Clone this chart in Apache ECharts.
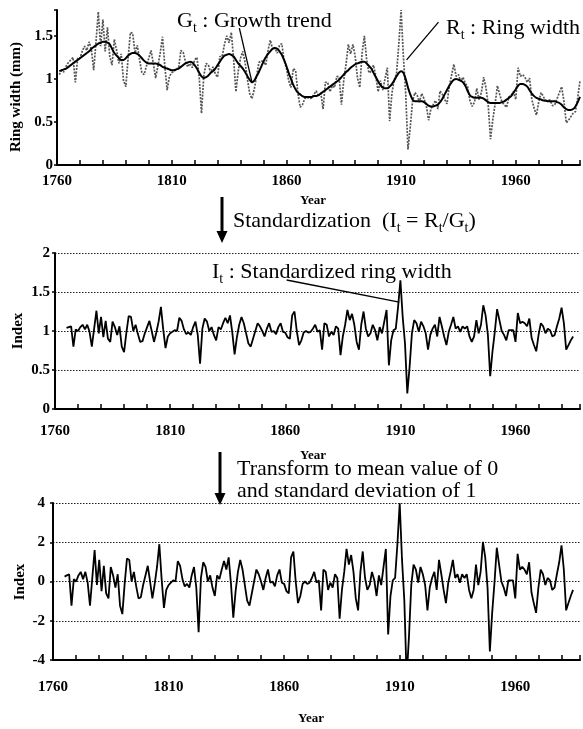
<!DOCTYPE html>
<html><head><meta charset="utf-8">
<script src="https://cdn.jsdelivr.net/npm/echarts@6/dist/echarts.min.js"></script>
<style>html,body{margin:0;padding:0;background:#fff}#c{width:583px;height:729px}</style>
</head><body><div id="c"></div>
<script>
// ---- data ----
const ringStartYear = 1761;   // panel 1 series start
const indexStartYear = 1765;  // panels 2 & 3 series start
const majorYearLabels = [1760, 1810, 1860, 1910, 1960];

// Rt : ring width (mm), 1761-1988
const ringWidth = [
  1.05,1.10,1.08,1.15,
  1.19,1.22,1.25,0.96,1.24,1.24,
  1.32,1.38,1.33,1.43,1.34,1.10,1.43,1.78,1.38,1.69,
  1.32,1.60,1.26,1.16,1.46,1.33,1.18,1.29,0.98,0.91,
  1.24,1.54,1.53,1.30,1.39,1.22,1.07,1.05,1.15,1.24,
  1.33,1.18,1.01,1.15,1.30,1.49,1.15,0.87,1.03,1.07,
  1.09,1.12,1.12,1.33,1.31,1.20,1.14,1.18,1.13,1.22,
  1.25,1.02,0.60,1.04,1.18,1.16,1.07,1.14,1.06,1.02,
  1.26,1.26,1.40,1.50,1.42,1.54,1.23,0.85,1.09,1.24,
  1.32,1.19,1.00,0.83,0.77,0.88,1.03,1.19,1.21,1.20,
  1.16,1.33,1.45,1.34,1.36,1.30,1.39,1.41,1.21,1.13,
  0.98,0.90,1.12,1.10,0.84,0.67,0.70,0.77,0.79,0.77,
  0.78,0.82,0.86,0.80,0.84,0.65,0.96,0.96,0.85,0.92,
  0.90,1.03,1.02,0.70,0.98,1.17,1.40,1.29,1.40,1.26,
  1.01,0.90,1.30,1.50,1.22,1.07,1.09,1.16,1.03,0.85,
  0.98,0.87,1.00,1.13,0.51,0.83,0.99,1.06,1.40,1.80,
  1.26,0.84,0.18,0.44,0.74,0.84,0.81,0.73,0.83,0.77,
  0.69,0.52,0.65,0.70,0.75,0.65,0.86,0.82,0.76,0.71,
  0.91,1.04,1.17,1.03,1.05,0.97,1.02,0.95,0.91,0.75,
  0.68,0.73,0.89,0.76,0.84,1.02,0.90,0.69,0.30,0.53,
  0.71,0.92,0.82,0.73,0.70,0.67,0.79,0.81,0.85,0.76,
  1.13,1.03,1.05,1.02,0.96,1.01,0.76,0.66,0.58,0.73,
  0.84,0.80,0.73,0.76,0.75,0.69,0.70,0.77,0.84,0.91,
  0.74,0.49,0.52,0.56,0.60,0.62,0.78,0.98
];

// Gt : growth trend (mm), 1761-1988
const growthTrend = [
  1.09,1.10,1.11,1.12,
  1.14,1.16,1.18,1.20,1.22,1.24,
  1.26,1.28,1.30,1.32,1.35,1.37,1.39,1.41,1.42,1.43,
  1.43,1.42,1.40,1.35,1.30,1.27,1.24,1.22,1.22,1.24,
  1.27,1.29,1.30,1.30,1.29,1.27,1.24,1.21,1.19,1.18,
  1.18,1.18,1.18,1.17,1.16,1.14,1.13,1.12,1.11,1.10,
  1.10,1.11,1.12,1.14,1.16,1.18,1.19,1.20,1.19,1.16,
  1.12,1.07,1.03,1.01,1.02,1.04,1.07,1.09,1.12,1.16,
  1.20,1.24,1.27,1.28,1.29,1.28,1.26,1.22,1.18,1.15,
  1.12,1.08,1.03,0.99,0.96,0.98,1.03,1.08,1.14,1.20,
  1.25,1.29,1.32,1.35,1.36,1.35,1.32,1.28,1.22,1.15,
  1.07,1.00,0.93,0.88,0.84,0.82,0.80,0.79,0.79,0.79,
  0.79,0.80,0.80,0.81,0.83,0.85,0.87,0.89,0.91,0.93,
  0.95,0.97,0.99,1.02,1.05,1.08,1.10,1.13,1.15,1.17,
  1.18,1.19,1.20,1.20,1.18,1.15,1.12,1.07,1.02,0.97,
  0.93,0.90,0.89,0.89,0.91,0.94,0.98,1.03,1.07,1.09,
  1.07,1.00,0.90,0.82,0.76,0.74,0.74,0.74,0.74,0.73,
  0.71,0.69,0.68,0.68,0.69,0.70,0.73,0.77,0.82,0.87,
  0.92,0.96,0.99,1.00,0.99,0.98,0.96,0.92,0.86,0.81,
  0.79,0.78,0.78,0.78,0.78,0.77,0.75,0.73,0.72,0.72,
  0.72,0.72,0.72,0.73,0.74,0.76,0.78,0.80,0.84,0.88,
  0.92,0.94,0.94,0.93,0.91,0.87,0.83,0.80,0.78,0.77,
  0.76,0.75,0.75,0.74,0.74,0.74,0.74,0.73,0.72,0.70,
  0.67,0.65,0.64,0.64,0.65,0.68,0.73,0.79
];

// It : standardized ring width index, 1765-1985
const stdIndex = [
  1.04,1.05,1.06,0.80,1.02,1.00,
  1.05,1.08,1.02,1.08,0.99,0.80,1.03,1.26,0.97,1.18,
  0.92,1.13,0.90,0.86,1.12,1.05,0.95,1.06,0.80,0.73,
  0.98,1.19,1.18,1.00,1.08,0.96,0.86,0.87,0.97,1.05,
  1.13,1.00,0.86,0.98,1.12,1.31,1.02,0.78,0.93,0.97,
  0.99,1.01,1.00,1.17,1.13,1.02,0.96,0.98,0.95,1.05,
  1.12,0.95,0.58,1.03,1.16,1.12,1.00,1.05,0.95,0.88,
  1.05,1.02,1.10,1.17,1.10,1.20,0.98,0.70,0.92,1.08,
  1.18,1.10,0.97,0.84,0.80,0.90,1.00,1.10,1.06,1.00,
  0.93,1.03,1.10,0.99,1.00,0.96,1.05,1.10,0.99,0.98,
  0.92,0.90,1.20,1.25,1.00,0.82,0.88,0.98,1.00,0.98,
  0.99,1.03,1.08,0.99,1.01,0.76,1.10,1.08,0.93,0.99,
  0.95,1.06,1.03,0.69,0.93,1.08,1.27,1.14,1.22,1.08,
  0.86,0.76,1.08,1.25,1.03,0.93,0.97,1.08,1.01,0.88,
  1.05,0.97,1.12,1.27,0.56,0.88,1.01,1.03,1.31,1.65,
  1.18,0.84,0.20,0.54,0.97,1.14,1.10,0.99,1.12,1.06,
  0.97,0.76,0.95,1.03,1.08,0.93,1.18,1.06,0.93,0.82,
  0.99,1.08,1.18,1.03,1.06,0.99,1.06,1.03,1.06,0.93,
  0.86,0.93,1.14,0.97,1.08,1.33,1.20,0.95,0.42,0.74,
  0.99,1.28,1.14,1.00,0.95,0.88,1.01,1.01,1.01,0.86,
  1.23,1.10,1.12,1.10,1.06,1.16,0.91,0.82,0.74,0.95,
  1.10,1.06,0.97,1.03,1.01,0.93,0.95,1.06,1.16,1.30,
  1.10,0.76,0.82,0.88,0.93
];

// transformed index (mean 0, sd 1), 1765-1985
const zIndex = [
  0.25,0.31,0.37,-1.23,0.12,0.00,
  0.31,0.49,0.12,0.49,-0.06,-1.23,0.18,1.60,-0.18,1.10,
  -0.49,0.80,-0.61,-0.86,0.74,0.31,-0.31,0.37,-1.23,-1.66,
  -0.12,1.17,1.10,0.00,0.49,-0.25,-0.86,-0.80,-0.18,0.31,
  0.80,0.00,-0.86,-0.12,0.74,1.90,0.12,-1.35,-0.43,-0.18,
  -0.06,0.06,0.00,1.04,0.80,0.12,-0.25,-0.12,-0.31,0.31,
  0.74,-0.31,-2.58,0.18,0.98,0.74,0.00,0.31,-0.31,-0.74,
  0.31,0.12,0.61,1.04,0.61,1.23,-0.12,-1.84,-0.49,0.49,
  1.10,0.61,-0.18,-0.98,-1.23,-0.61,0.00,0.61,0.37,0.00,
  -0.43,0.18,0.61,-0.06,0.00,-0.25,0.31,0.61,-0.06,-0.12,
  -0.49,-0.61,1.23,1.53,0.00,-1.10,-0.74,-0.12,0.00,-0.12,
  -0.06,0.18,0.49,-0.06,0.06,-1.47,0.61,0.49,-0.43,-0.06,
  -0.31,0.37,0.18,-1.90,-0.43,0.49,1.66,0.86,1.35,0.49,
  -0.86,-1.47,0.49,1.53,0.18,-0.43,-0.18,0.49,0.06,-0.74,
  0.31,-0.18,0.74,1.66,-2.70,-0.74,0.06,0.18,1.90,3.99,
  1.10,-0.98,-4.91,-2.82,-0.18,0.86,0.61,-0.06,0.74,0.37,
  -0.18,-1.47,-0.31,0.18,0.49,-0.43,1.10,0.37,-0.43,-1.10,
  -0.06,0.49,1.10,0.18,0.37,-0.06,0.37,0.18,0.37,-0.43,
  -0.86,-0.43,0.86,-0.18,0.49,2.02,1.23,-0.31,-3.56,-1.60,
  -0.06,1.72,0.86,0.00,-0.31,-0.74,0.06,0.06,0.06,-0.86,
  1.41,0.61,0.74,0.61,0.37,0.98,-0.55,-1.10,-1.60,-0.31,
  0.61,0.37,-0.18,0.18,0.06,-0.43,-0.31,0.37,0.98,1.84,
  0.61,-1.47,-1.10,-0.74,-0.43
];

// ---- chart ----
const SERIF = '"Liberation Serif", "Times New Roman", serif';
const pairs = (arr, start) => arr.map((v, i) => [start + i, v]);

function xAxisCfg(gridIndex, margin) {
  return {
    type: 'value', gridIndex, min: 1760, max: 1988, interval: 10,
    axisLine: { show: true, onZero: false, lineStyle: { color: '#000', width: 2 } },
    axisTick: { show: true, inside: true, length: 5, lineStyle: { color: '#000', width: 1.5 } },
    axisLabel: {
      margin, color: '#000', fontFamily: SERIF, fontWeight: 'bold', fontSize: 15,
      formatter: v => (majorYearLabels.indexOf(v) >= 0 ? String(v) : '')
    },
    splitLine: { show: false }
  };
}
function yAxisCfg(gridIndex, min, max, interval, margin, grid) {
  return {
    type: 'value', gridIndex, min, max, interval,
    axisLine: { show: true, lineStyle: { color: '#000', width: 2 } },
    axisTick: { show: true, length: 3, lineStyle: { color: '#000', width: 1.5 } },
    axisLabel: {
      margin, color: '#000', fontFamily: SERIF, fontWeight: 'bold', fontSize: 15,
      formatter: v => (v > max - 1e-9 && (max - min) % interval !== 0 ? '' : String(v))
    },
    splitLine: grid ? { show: true, lineStyle: { color: '#222', width: 1, type: [1.5, 1.5] } } : { show: false }
  };
}

const leader = (a, b) => ({
  silent: true, symbol: ['none', 'none'], animation: false,
  label: { show: false },
  lineStyle: { color: '#000', width: 1.3, type: 'solid' },
  data: [[{ coord: a }, { coord: b }]]
});

const rich = {
  m: { fontFamily: SERIF, fontSize: 22, lineHeight: 28, verticalAlign: 'middle', color: '#000' },
  s: { fontFamily: SERIF, fontSize: 14, lineHeight: 12, verticalAlign: 'bottom', color: '#000' }
};
const richText = (x, y, text) => ({ type: 'text', x, y, silent: true, style: { text, rich, textVerticalAlign: 'top' } });
const plainText = (x, y, text, size, rot) => ({
  type: 'text', x, y, rotation: rot || 0, silent: true,
  style: { text, textAlign: 'center', textVerticalAlign: 'middle', fill: '#000',
           font: 'bold ' + size + 'px ' + SERIF }
});

const option = {
  animation: false,
  backgroundColor: '#fff',
  grid: [
    { left: 57, top: 10, width: 525, height: 155 },
    { left: 55, top: 253, width: 526, height: 156 },
    { left: 53, top: 503, width: 527, height: 157 }
  ],
  xAxis: [xAxisCfg(0, 9), xAxisCfg(1, 15), xAxisCfg(2, 20)],
  yAxis: [
    yAxisCfg(0, 0, 1.8, 0.5, 4, false),
    yAxisCfg(1, 0, 2, 0.5, 5, true),
    yAxisCfg(2, -4, 4, 2, 8, true)
  ],
  series: [
    {
      name: 'Rt', type: 'line', xAxisIndex: 0, yAxisIndex: 0, showSymbol: false, symbol: 'none',
      data: pairs(ringWidth, ringStartYear),
      lineStyle: { color: '#555', width: 1.7, type: [2, 1.3] },
      markLine: leader([1926.3, 1.66], [1912.4, 1.22])
    },
    {
      name: 'Gt', type: 'line', xAxisIndex: 0, yAxisIndex: 0, showSymbol: false, symbol: 'none', smooth: 0.3,
      data: pairs(growthTrend, ringStartYear),
      lineStyle: { color: '#000', width: 2 },
      markLine: leader([1839.5, 1.59], [1845.1, 0.95])
    },
    {
      name: 'It', type: 'line', xAxisIndex: 1, yAxisIndex: 1, showSymbol: false, symbol: 'none',
      data: pairs(stdIndex, indexStartYear),
      lineStyle: { color: '#000', width: 1.8 },
      markLine: leader([1860.6, 1.654], [1909.5, 1.37])
    },
    {
      name: 'Z', type: 'line', xAxisIndex: 2, yAxisIndex: 2, showSymbol: false, symbol: 'none',
      data: pairs(zIndex, indexStartYear),
      lineStyle: { color: '#000', width: 1.8 }
    }
  ],
  graphic: [
    richText(177, 7.5, '{m|G}{s|t}{m| : Growth trend}'),
    richText(446, 14.5, '{m|R}{s|t}{m| : Ring width}'),
    richText(233, 207, '{m|Standardization  (I}{s|t}{m| = R}{s|t}{m|/G}{s|t}{m|)}'),
    richText(212, 258.5, '{m|I}{s|t}{m| : Standardized ring width}'),
    richText(237, 455.5, '{m|Transform to mean value of 0}'),
    richText(237, 477, '{m|and standard deviation of 1}'),
    plainText(313, 201, 'Year', 13),
    plainText(313, 456, 'Year', 13),
    plainText(311, 719, 'Year', 13),
    plainText(16, 97, 'Ring width (mm)', 15, Math.PI / 2),
    plainText(18, 331, 'Index', 15, Math.PI / 2),
    plainText(20, 582, 'Index', 15, Math.PI / 2),
    { type: 'line', silent: true, shape: { x1: 222, y1: 197, x2: 222, y2: 234 }, style: { stroke: '#000', lineWidth: 3 } },
    { type: 'polygon', silent: true, shape: { points: [[216.5, 231], [227.5, 231], [222, 243]] }, style: { fill: '#000' } },
    { type: 'line', silent: true, shape: { x1: 220, y1: 452, x2: 220, y2: 496 }, style: { stroke: '#000', lineWidth: 3 } },
    { type: 'polygon', silent: true, shape: { points: [[214.5, 493], [225.5, 493], [220, 505]] }, style: { fill: '#000' } }
  ]
};

const chart = echarts.init(document.getElementById('c'), null, { renderer: 'canvas' });
chart.setOption(option);
</script>
</body></html>
